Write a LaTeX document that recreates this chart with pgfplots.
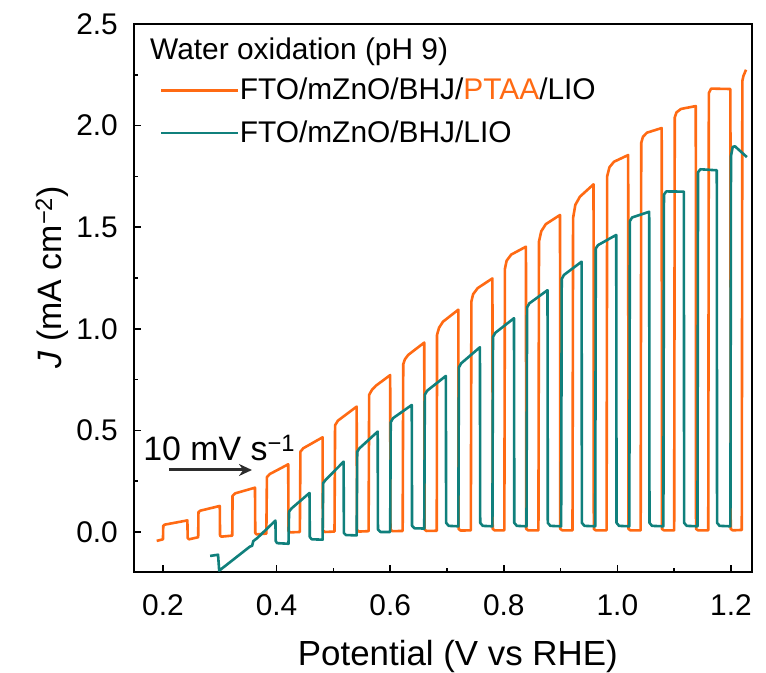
\documentclass[border=0pt]{standalone}
\usepackage{fontspec}
\setmainfont{Liberation Sans}
\usepackage{pgfplots}
\pgfplotsset{compat=1.18}
\usetikzlibrary{arrows.meta}
\definecolor{orangeC}{RGB}{255,106,19}
\definecolor{tealC}{RGB}{16,128,124}
\definecolor{arrowC}{RGB}{45,45,45}
\begin{document}
\begin{tikzpicture}
\path[use as bounding box] (-134bp,-101bp) rectangle (632bp,572bp);
\begin{axis}[
  at={(0,0)}, anchor=south west,
  width=618bp, height=548bp, scale only axis,
  xmin=0.149, xmax=1.237, ymin=-0.197, ymax=2.5,
  xtick={0.2,0.4,0.6,0.8,1.0,1.2},
  ytick={0,0.5,1.0,1.5,2.0,2.5},
  minor x tick num=1, minor y tick num=1,
  xtick pos=left, ytick pos=left,
  tick align=inside,
  major tick length=7bp, minor tick length=4.5bp,
  every tick/.style={line width=1.5bp, black},
  axis line style={line width=1.6bp},
  /pgf/number format/assume math mode=true,
  xticklabel style={/pgf/number format/fixed, /pgf/number format/fixed zerofill, /pgf/number format/precision=1,
     font=\fontsize{30}{36}\selectfont, inner sep=0pt, anchor=north, yshift=-22bp},
  yticklabel style={/pgf/number format/fixed, /pgf/number format/fixed zerofill, /pgf/number format/precision=1,
     font=\fontsize{30}{36}\selectfont, inner sep=0pt, anchor=east, xshift=-16bp},
  xlabel={Potential (V vs RHE)},
  ylabel={\textit{J} (mA cm\textsuperscript{−2})},
  xlabel style={font=\fontsize{35}{40}\selectfont, at={(axis description cs:0.524,-0.170)}, anchor=base, inner sep=0pt},
  ylabel style={font=\fontsize{34}{40}\selectfont, at={(axis description cs:-0.118,0.538)}, anchor=base, inner sep=0pt},
  legend style={draw=none, fill=none, inner sep=0pt, at={(rel axis cs:0,1)}, anchor=north west,
     xshift=26bp, yshift=-54bp, font=\fontsize{30}{34}\selectfont, row sep=19bp,
     nodes={inner sep=0pt},
     /tikz/every even column/.append style={column sep=11bp}},
  legend cell align=left,
  legend image code/.code={\draw[#1] (0bp,-1bp) -- (77bp,-1bp);},
]
\addplot[color=orangeC, line width=2.6bp, line join=round] coordinates {
(0.189,-0.044) (0.200,-0.036)
(0.2005,0.030) (0.203,0.036) (0.243,0.057)
(0.2435,-0.030) (0.246,-0.036) (0.262,-0.026)
(0.2625,0.098) (0.266,0.105) (0.300,0.128)
(0.3005,-0.018) (0.303,-0.023) (0.322,-0.018)
(0.3225,0.178) (0.327,0.190) (0.362,0.218)
(0.3625,-0.005) (0.365,-0.012) (0.382,-0.008)
(0.383,0.270) (0.388,0.285) (0.4205,0.333)
(0.421,0.005) (0.424,-0.002) (0.441,0.0)
(0.442,0.395) (0.447,0.412) (0.481,0.466)
(0.4815,0.008) (0.485,0.0) (0.502,0.002)
(0.503,0.525) (0.508,0.548) (0.541,0.617)
(0.5415,0.010) (0.545,0.002) (0.562,0.004)
(0.563,0.675) (0.568,0.700) (0.575,0.720) (0.600,0.772)
(0.6005,0.012) (0.604,0.004) (0.622,0.005)
(0.623,0.825) (0.626,0.850) (0.632,0.872) (0.660,0.932)
(0.6605,0.012) (0.664,0.005) (0.682,0.006)
(0.6825,0.970) (0.686,1.005) (0.693,1.035) (0.720,1.094)
(0.7205,0.015) (0.724,0.007) (0.742,0.008)
(0.743,1.135) (0.746,1.170) (0.754,1.200) (0.780,1.248)
(0.7805,0.015) (0.784,0.008) (0.801,0.008)
(0.802,1.295) (0.805,1.335) (0.813,1.365) (0.839,1.404)
(0.8395,0.015) (0.843,0.008) (0.861,0.008)
(0.862,1.430) (0.866,1.480) (0.874,1.515) (0.899,1.560)
(0.8995,0.015) (0.903,0.008) (0.921,0.008)
(0.922,1.545) (0.926,1.610) (0.934,1.650) (0.958,1.711)
(0.9585,0.015) (0.962,0.008) (0.981,0.008)
(0.982,1.750) (0.986,1.795) (0.994,1.822) (1.019,1.855)
(1.0195,0.015) (1.023,0.008) (1.041,0.008)
(1.042,1.915) (1.045,1.945) (1.052,1.965) (1.078,1.988)
(1.0785,0.015) (1.082,0.008) (1.100,0.008)
(1.101,2.040) (1.104,2.065) (1.112,2.082) (1.138,2.096)
(1.1385,0.015) (1.142,0.008) (1.160,0.008)
(1.161,2.160) (1.165,2.182) (1.199,2.180)
(1.1995,0.015) (1.203,0.008) (1.219,0.010)
(1.220,2.220) (1.222,2.245) (1.2265,2.275)
};
\addlegendentry{FTO/mZnO/BHJ/\textcolor{orangeC}{PTAA}/LIO}
\addplot[color=tealC, line width=2.6bp, line join=round] coordinates {
(0.283,-0.118) (0.297,-0.112)
(0.299,-0.190) (0.301,-0.186) (0.353,-0.072) (0.357,-0.068) (0.359,-0.045) (0.366,-0.030) (0.398,0.056)
(0.3985,-0.045) (0.401,-0.055) (0.421,-0.058)
(0.422,0.100) (0.426,0.115) (0.458,0.192)
(0.4585,-0.025) (0.462,-0.036) (0.481,-0.038)
(0.482,0.240) (0.486,0.255) (0.518,0.346)
(0.5185,-0.005) (0.522,-0.015) (0.541,-0.017)
(0.542,0.395) (0.546,0.412) (0.578,0.494)
(0.5785,0.012) (0.583,0.000) (0.600,0.000)
(0.601,0.540) (0.605,0.560) (0.638,0.625)
(0.6385,0.030) (0.643,0.018) (0.660,0.017)
(0.661,0.675) (0.665,0.695) (0.698,0.768)
(0.6985,0.045) (0.703,0.030) (0.720,0.028)
(0.721,0.810) (0.725,0.830) (0.758,0.909)
(0.7585,0.045) (0.763,0.030) (0.780,0.028)
(0.781,0.960) (0.785,0.980) (0.818,1.052)
(0.8185,0.045) (0.823,0.030) (0.840,0.028)
(0.841,1.105) (0.845,1.125) (0.877,1.190)
(0.8775,0.045) (0.882,0.030) (0.901,0.028)
(0.902,1.245) (0.906,1.265) (0.937,1.330)
(0.9375,0.045) (0.942,0.030) (0.961,0.028)
(0.962,1.395) (0.966,1.412) (0.998,1.462)
(0.9985,0.045) (1.003,0.030) (1.021,0.028)
(1.022,1.530) (1.026,1.548) (1.056,1.576)
(1.0565,0.045) (1.061,0.030) (1.081,0.028)
(1.082,1.660) (1.086,1.676) (1.117,1.675)
(1.1175,0.045) (1.122,0.030) (1.141,0.028)
(1.142,1.770) (1.146,1.785) (1.175,1.780)
(1.1755,0.045) (1.180,0.030) (1.199,0.028)
(1.200,1.850) (1.203,1.895) (1.207,1.898) (1.228,1.845)
};
\addlegendentry{FTO/mZnO/BHJ/LIO}
\node[anchor=base west, inner sep=0pt, font=\fontsize{30}{34}\selectfont] at (rel axis cs:0,1) [xshift=16bp, yshift=-36bp] {Water oxidation (pH 9)};
\node[anchor=base west, inner sep=0pt, font=\fontsize{34}{38}\selectfont] at (axis cs:0.165,0.354) {10 mV s\textsuperscript{−1}};
\draw[-{Stealth[length=13bp,width=12bp]}, line width=3bp, arrowC] (axis cs:0.2106,0.305) -- (axis cs:0.3567,0.305);
\end{axis}
\end{tikzpicture}
\end{document}
